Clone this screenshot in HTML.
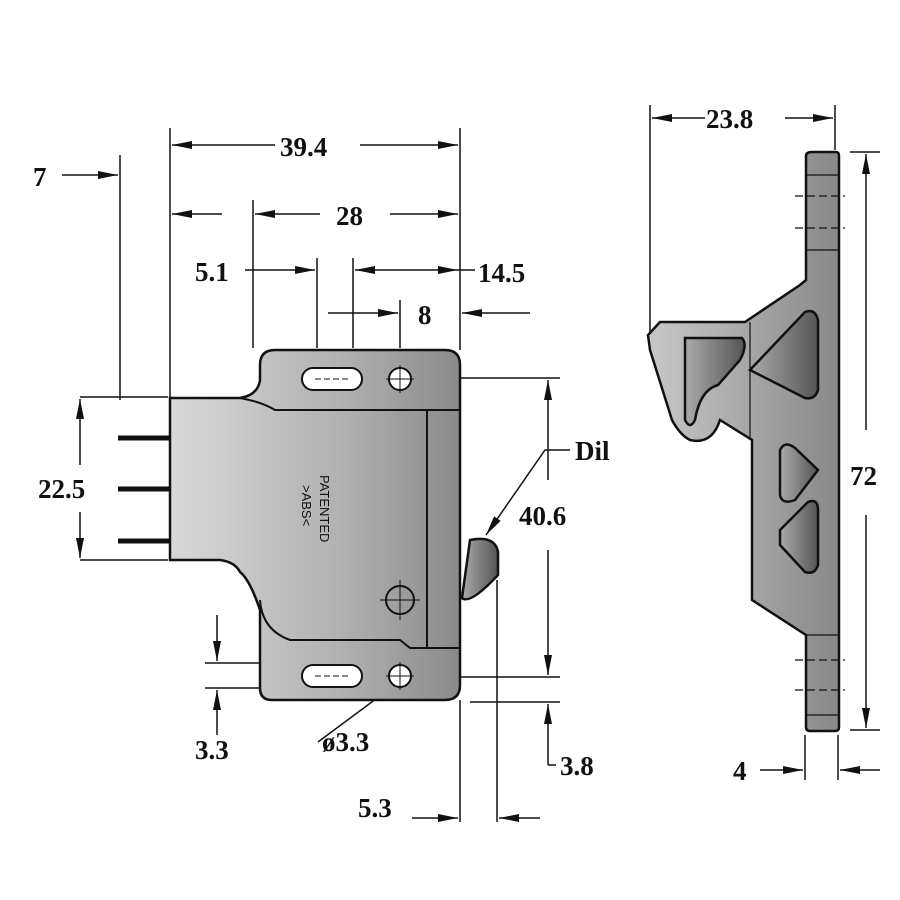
<!DOCTYPE html>
<html><head><style>
html,body{margin:0;padding:0;background:#fff;}
svg{display:block;}
text{font-family:"Liberation Serif",serif;font-weight:bold;font-size:27px;fill:#111;}
</style></head><body>
<svg width="900" height="900" viewBox="0 0 900 900" xmlns="http://www.w3.org/2000/svg">
<defs>
<marker id="a" viewBox="0 0 20 8" refX="20" refY="4" markerWidth="20" markerHeight="8" markerUnits="userSpaceOnUse" orient="auto"><path d="M0,0 L20,4 L0,8 Z" fill="#111"/></marker>
<linearGradient id="g1" x1="0" x2="1" y1="0" y2="0"><stop offset="0" stop-color="#d8d8d8"/><stop offset="0.6" stop-color="#b0b0b0"/><stop offset="1" stop-color="#8a8a8a"/></linearGradient>
<linearGradient id="g2" x1="0" x2="1" y1="0" y2="0"><stop offset="0" stop-color="#c8c8c8"/><stop offset="1" stop-color="#888"/></linearGradient>
<linearGradient id="g3" x1="0" x2="1" y1="0" y2="0"><stop offset="0" stop-color="#aaa"/><stop offset="1" stop-color="#555"/></linearGradient>
</defs>
<g stroke="#111" stroke-width="1.5" fill="none">
<line x1="120" y1="155" x2="120" y2="400"/>
<line x1="170" y1="128" x2="170" y2="398"/>
<line x1="253" y1="200" x2="253" y2="348"/>
<line x1="317" y1="258" x2="317" y2="348"/>
<line x1="353" y1="258" x2="353" y2="348"/>
<line x1="400" y1="300" x2="400" y2="348"/>
<line x1="460" y1="128" x2="460" y2="350"/>
<line x1="460" y1="700" x2="460" y2="822"/>
<line x1="497" y1="580" x2="497" y2="822"/>
<line x1="80" y1="397" x2="168" y2="397"/>
<line x1="80" y1="560" x2="168" y2="560"/>
<line x1="435" y1="378" x2="560" y2="378"/>
<line x1="435" y1="677" x2="560" y2="677"/>
<line x1="470" y1="702" x2="560" y2="702"/>
<line x1="205" y1="663" x2="300" y2="663"/>
<line x1="205" y1="688" x2="300" y2="688"/>
<line x1="650" y1="105" x2="650" y2="335"/>
<line x1="835" y1="105" x2="835" y2="150"/>
<line x1="850" y1="152" x2="880" y2="152"/>
<line x1="850" y1="730" x2="880" y2="730"/>
<line x1="805" y1="735" x2="805" y2="780"/>
<line x1="838" y1="735" x2="838" y2="780"/>
<line x1="275" y1="145" x2="172" y2="145" marker-end="url(#a)"/>
<line x1="360" y1="145" x2="458" y2="145" marker-end="url(#a)"/>
<line x1="222" y1="214" x2="172" y2="214" marker-end="url(#a)"/>
<line x1="320" y1="214" x2="255" y2="214" marker-end="url(#a)"/>
<line x1="390" y1="214" x2="458" y2="214" marker-end="url(#a)"/>
<line x1="245" y1="270" x2="315" y2="270" marker-end="url(#a)"/>
<line x1="405" y1="270" x2="355" y2="270" marker-end="url(#a)"/>
<line x1="405" y1="270" x2="458" y2="270" marker-end="url(#a)"/>
<line x1="458" y1="270" x2="475" y2="270"/>
<line x1="328" y1="313" x2="398" y2="313" marker-end="url(#a)"/>
<line x1="530" y1="313" x2="462" y2="313" marker-end="url(#a)"/>
<line x1="62" y1="175" x2="118" y2="175" marker-end="url(#a)"/>
<line x1="80" y1="465" x2="80" y2="399" marker-end="url(#a)"/>
<line x1="80" y1="512" x2="80" y2="558" marker-end="url(#a)"/>
<line x1="548" y1="480" x2="548" y2="380" marker-end="url(#a)"/>
<line x1="548" y1="550" x2="548" y2="675" marker-end="url(#a)"/>
<line x1="217" y1="615" x2="217" y2="661" marker-end="url(#a)"/>
<line x1="217" y1="735" x2="217" y2="690" marker-end="url(#a)"/>
<line x1="548" y1="765" x2="548" y2="704" marker-end="url(#a)"/>
<line x1="548" y1="765" x2="556" y2="765"/>
<line x1="412" y1="818" x2="458" y2="818" marker-end="url(#a)"/>
<line x1="540" y1="818" x2="499" y2="818" marker-end="url(#a)"/>
<line x1="705" y1="118" x2="652" y2="118" marker-end="url(#a)"/>
<line x1="785" y1="118" x2="833" y2="118" marker-end="url(#a)"/>
<line x1="866" y1="430" x2="866" y2="154" marker-end="url(#a)"/>
<line x1="866" y1="515" x2="866" y2="728" marker-end="url(#a)"/>
<line x1="760" y1="770" x2="803" y2="770" marker-end="url(#a)"/>
<line x1="880" y1="770" x2="840" y2="770" marker-end="url(#a)"/>
<polyline points="570,450 545,450 486,535" marker-end="url(#a)"/>
<line x1="318" y1="742" x2="396" y2="684" marker-end="url(#a)"/>
<line x1="440" y1="630" x2="407" y2="668" marker-end="url(#a)"/>
</g>
<g stroke="#111" stroke-width="5">
<line x1="118" y1="438" x2="172" y2="438"/>
<line x1="118" y1="489" x2="172" y2="489"/>
<line x1="118" y1="541" x2="172" y2="541"/>
</g>
<g stroke="#111" stroke-width="2.5">
<path d="M470,540 Q495,535 498,552 L498,575 Q470,605 462,598 Z" fill="url(#g3)"/>
<path d="M275,350 L445,350 Q460,350 460,365 L460,685 Q460,700 445,700 L272,700 Q260,700 260,688 L260,610 Q250,580 240,572 Q235,562 220,560 L170,560 L170,398 L240,398 Q258,395 260,380 L260,365 Q260,350 275,350 Z" fill="url(#g1)"/>
<path d="M240,398 Q262,402 275,410 L427,410 L427,648 L410,648 L400,640 L290,640 Q262,630 260,600" fill="none" stroke-width="2"/>
<line x1="427" y1="410" x2="460" y2="410" stroke-width="2"/>
<line x1="427" y1="648" x2="460" y2="648" stroke-width="2"/>
</g>
<g stroke="#111" stroke-width="2" fill="#fff">
<rect x="302" y="368" width="60" height="22" rx="11"/>
<circle cx="400" cy="379" r="11"/>
<rect x="302" y="665" width="60" height="22" rx="11"/>
<circle cx="400" cy="676" r="11"/>
<circle cx="400" cy="600" r="14" fill="none"/>
</g>
<g stroke="#111" stroke-width="1" fill="none">
<line x1="315" y1="379" x2="350" y2="379" stroke-dasharray="6,3"/>
<line x1="400" y1="365" x2="400" y2="393"/><line x1="386" y1="379" x2="414" y2="379"/>
<line x1="315" y1="676" x2="350" y2="676" stroke-dasharray="6,3"/>
<line x1="400" y1="662" x2="400" y2="690"/><line x1="386" y1="676" x2="414" y2="676"/>
<line x1="400" y1="580" x2="400" y2="620"/><line x1="380" y1="600" x2="420" y2="600"/>
</g>
<text x="320" y="475" transform="rotate(90 320 475)" style="font-family:'Liberation Sans',sans-serif;font-size:13px;font-weight:normal">PATENTED</text>
<text x="302" y="485" transform="rotate(90 302 485)" style="font-family:'Liberation Sans',sans-serif;font-size:13px;font-weight:normal">&gt;ABS&lt;</text>
<g stroke="#111" stroke-width="2.5">
<path d="M812,152 L836,152 Q839,152 839,156 L839,727 Q839,731 835,731 L810,731 Q806,731 806,727 L806,635 L752,600 L752,440 L720,420 Q712,445 690,440 Q680,435 672,420 L650,350 L648,335 L660,322 L745,322 L800,285 L806,280 L806,156 Q806,152 812,152 Z" fill="url(#g2)"/>
<path d="M685,338 L742,338 Q748,345 740,360 L718,385 Q700,390 695,420 Q690,430 685,420 Z" fill="url(#g3)"/>
<path d="M750,370 L805,312 Q815,308 818,320 L818,390 Q815,400 805,398 Z" fill="url(#g3)"/>
<path d="M780,450 Q785,440 795,448 L818,470 L795,500 Q782,505 780,495 Z" fill="url(#g3)"/>
<path d="M780,530 L808,502 Q818,498 818,510 L818,565 Q815,575 805,572 L780,545 Z" fill="url(#g3)"/>
</g>
<g stroke="#111" stroke-width="1.2">
<line x1="750" y1="322" x2="750" y2="440"/>
<line x1="806" y1="175" x2="839" y2="175"/><line x1="806" y1="250" x2="839" y2="250"/>
<line x1="806" y1="635" x2="839" y2="635"/><line x1="806" y1="715" x2="839" y2="715"/>
<line x1="795" y1="196" x2="845" y2="196" stroke-dasharray="8,4"/>
<line x1="795" y1="228" x2="845" y2="228" stroke-dasharray="8,4"/>
<line x1="795" y1="660" x2="845" y2="660" stroke-dasharray="8,4"/>
<line x1="795" y1="690" x2="845" y2="690" stroke-dasharray="8,4"/>
</g>
<text x="280" y="156">39.4</text>
<text x="336" y="225">28</text>
<text x="195" y="281">5.1</text>
<text x="478" y="282">14.5</text>
<text x="418" y="324">8</text>
<text x="33" y="186">7</text>
<text x="38" y="498">22.5</text>
<text x="519" y="525">40.6</text>
<text x="575" y="460">Dil</text>
<text x="195" y="759">3.3</text>
<text x="322" y="751">ø3.3</text>
<text x="560" y="775">3.8</text>
<text x="358" y="817">5.3</text>
<text x="706" y="128">23.8</text>
<text x="850" y="485">72</text>
<text x="733" y="780">4</text>
</svg>
</body></html>
